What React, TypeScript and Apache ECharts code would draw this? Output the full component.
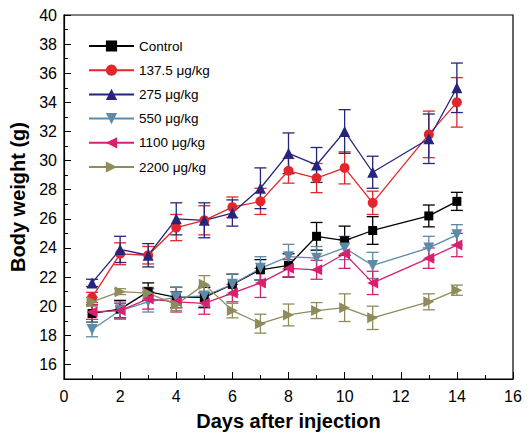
import React, { useEffect, useRef } from "react";
import * as echarts from "echarts";

const days = [1, 2, 3, 4, 5, 6, 7, 8, 9, 10, 11, 13, 14];
const seriesNames = ["Control", "137.5 μg/kg", "275 μg/kg", "550 μg/kg", "1100 μg/kg", "2200 μg/kg"];
const controlMean = [19.5, 19.8, 21.0, 20.6, 20.6, 21.5, 22.5, 22.8, 24.8, 24.5, 25.2, 26.2, 27.2];
const controlErr = [0.6, 0.6, 0.6, 0.7, 0.7, 0.7, 0.7, 0.8, 0.95, 1.0, 0.95, 0.75, 0.62];
const dose137Mean = [20.6, 23.6, 23.5, 25.4, 25.9, 26.8, 27.2, 29.3, 28.8, 29.5, 27.1, 31.8, 34.0];
const dose137Err = [0.35, 0.75, 0.6, 0.9, 1.0, 0.7, 0.9, 0.85, 1.0, 1.1, 0.8, 1.6, 1.7];
const dose275Mean = [21.6, 23.9, 23.5, 26.0, 25.9, 26.4, 28.1, 30.5, 29.7, 32.0, 29.2, 31.5, 35.0];
const dose275Err = [0.25, 0.9, 0.8, 1.1, 1.2, 0.9, 1.4, 1.4, 1.2, 1.5, 1.1, 1.7, 1.7];
const dose550Mean = [18.4, 19.7, 20.3, 20.6, 20.7, 21.5, 22.6, 23.4, 23.3, 24.0, 22.8, 24.0, 24.9];
const dose550Err = [0.5, 0.6, 0.7, 0.7, 0.7, 0.7, 0.8, 0.85, 0.8, 0.8, 0.9, 0.8, 0.7];
const dose1100Mean = [19.6, 19.7, 20.5, 20.3, 20.2, 20.9, 21.6, 22.6, 22.5, 23.6, 21.6, 23.3, 24.2];
const dose1100Err = [0.5, 0.5, 0.7, 0.7, 0.75, 0.6, 1.0, 0.6, 0.65, 1.0, 0.8, 0.7, 0.8];
const dose2200Mean = [20.3, 21.0, 20.9, 20.1, 21.5, 19.7, 18.8, 19.4, 19.7, 19.9, 19.2, 20.3, 21.1];
const dose2200Err = [0.3, 0.2, 0.4, 0.4, 0.6, 0.5, 0.65, 0.75, 0.55, 0.95, 0.8, 0.55, 0.35];

const yMajorTicks = [16, 18, 20, 22, 24, 26, 28, 30, 32, 34, 36, 38, 40];
const yMinorTicks = [17, 19, 21, 23, 25, 27, 29, 31, 33, 35, 37, 39];

const means = [controlMean, dose137Mean, dose275Mean, dose550Mean, dose1100Mean, dose2200Mean];
const errs = [controlErr, dose137Err, dose275Err, dose550Err, dose1100Err, dose2200Err];
const colors = ["#000000", "#e3262b", "#25257c", "#5d8aa8", "#d9206f", "#8f8c5c"];
const symbols = ["rect", "circle", "triangle", "triangle", "triangle", "triangle"];
const rotates = [0, 0, 0, 180, 90, -90];
const sizes = [9, 10, 11, 11, 11, 11];

const FONT = "'Liberation Sans', Arial, Helvetica, sans-serif";

export default function App() {
  const ref = useRef<HTMLDivElement>(null);
  useEffect(() => {
    if (!ref.current) return;
    const chart = echarts.init(ref.current, null, { renderer: "svg" });
    const errSeries = means.map((m, i) => ({
      type: "custom",
      name: seriesNames[i] + " err",
      xAxisIndex: 0,
      yAxisIndex: 0,
      z: 1,
      silent: true,
      data: days.map((d, k) => [d, m[k] - errs[i][k], m[k] + errs[i][k]]),
      renderItem: (params: any, api: any) => {
        const x = api.value(0);
        const pLo = api.coord([x, api.value(1)]);
        const pHi = api.coord([x, api.value(2)]);
        const w = 6;
        const style = { stroke: colors[i], lineWidth: 1.3, fill: "none" };
        return {
          type: "group",
          children: [
            { type: "line", shape: { x1: pLo[0], y1: pLo[1], x2: pHi[0], y2: pHi[1] }, style },
            { type: "line", shape: { x1: pLo[0] - w, y1: pLo[1], x2: pLo[0] + w, y2: pLo[1] }, style },
            { type: "line", shape: { x1: pHi[0] - w, y1: pHi[1], x2: pHi[0] + w, y2: pHi[1] }, style },
          ],
        };
      },
    }));
    const lineSeries = means.map((m, i) => ({
      type: "line",
      name: seriesNames[i],
      xAxisIndex: 0,
      yAxisIndex: 0,
      z: 3,
      data: days.map((d, k) => [d, m[k]]),
      symbol: symbols[i],
      symbolSize: sizes[i],
      symbolRotate: rotates[i],
      showAllSymbol: true,
      lineStyle: { color: colors[i], width: 1.3 },
      itemStyle: { color: colors[i] },
    }));
    chart.setOption({
      animation: false,
      grid: {
        left: 64,
        top: 15,
        right: 17,
        bottom: 62,
        show: true,
        borderColor: "#000",
        borderWidth: 1.2,
        containLabel: false,
        outerBoundsMode: "none",
      },
      legend: {
        data: seriesNames,
        orient: "vertical",
        left: 83,
        top: 34,
        itemWidth: 45,
        itemHeight: 14,
        itemGap: 10.2,
        textStyle: { fontFamily: FONT, fontSize: 13.5, color: "#000" },
      },
      xAxis: {
        type: "value",
        min: 0,
        max: 16,
        interval: 2,
        name: "Days after injection",
        nameLocation: "middle",
        nameGap: 32,
        nameTextStyle: { fontFamily: FONT, fontSize: 20, fontWeight: "bold", color: "#000" },
        axisLine: { show: true, lineStyle: { color: "#000", width: 1.2 } },
        axisTick: { show: true, inside: true, length: 7, lineStyle: { color: "#000", width: 1 } },
        minorTick: { show: true, splitNumber: 2, length: 4, lineStyle: { color: "#000", width: 1 } },
        axisLabel: { fontFamily: FONT, fontSize: 16, color: "#000", margin: 9 },
        splitLine: { show: false },
      },
      yAxis: [
        {
          type: "value",
          min: 15,
          max: 40,
          name: "Body weight (g)",
          nameLocation: "middle",
          nameGap: 36,
          nameTextStyle: { fontFamily: FONT, fontSize: 20, fontWeight: "bold", color: "#000" },
          axisLine: { show: true, lineStyle: { color: "#000", width: 1.2 } },
          axisTick: {
            show: true,
            inside: true,
            length: 7,
            customValues: yMajorTicks,
            lineStyle: { color: "#000", width: 1 },
          },
          axisLabel: {
            fontFamily: FONT,
            fontSize: 16,
            color: "#000",
            margin: 7,
            customValues: yMajorTicks,
          },
          splitLine: { show: false },
        },
        {
          type: "value",
          min: 15,
          max: 40,
          position: "left",
          axisLine: { show: false },
          axisTick: {
            show: true,
            inside: true,
            length: 4,
            customValues: yMinorTicks,
            lineStyle: { color: "#000", width: 1 },
          },
          axisLabel: { show: false },
          splitLine: { show: false },
        },
      ],
      series: [...errSeries, ...lineSeries],
    });
    return () => chart.dispose();
  }, []);
  return (
    <div
      ref={ref}
      style={{ position: "fixed", left: 0, top: 0, width: 530, height: 441, background: "#fff" }}
    />
  );
}
